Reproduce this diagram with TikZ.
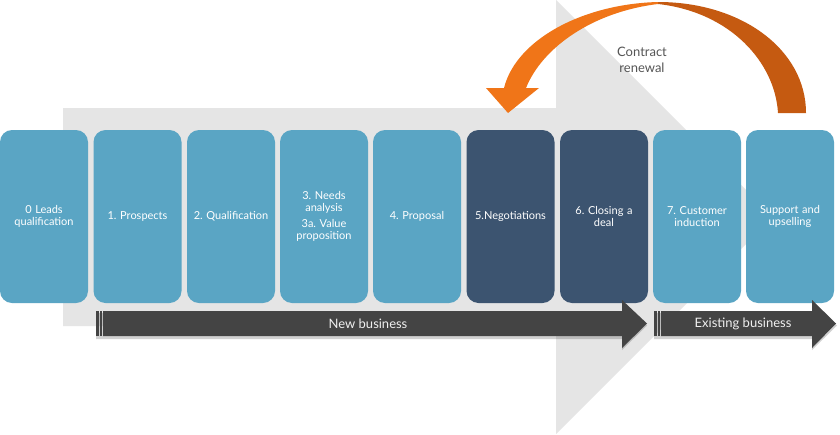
\documentclass[tikz,border=0pt]{standalone}
\usepackage{fontspec}
\setmainfont{Lato}
\frenchspacing
\usetikzlibrary{positioning}
\definecolor{lightblue}{HTML}{5AA5C4}
\definecolor{darkblue}{HTML}{3C5470}
\definecolor{arrowgray}{HTML}{444444}
\definecolor{bggray}{HTML}{E5E5E5}
\definecolor{orangeA}{HTML}{F07518}
\definecolor{orangeB}{HTML}{C55A11}
\definecolor{labelgray}{HTML}{555555}
\tikzset{
  stage/.style={rounded corners=12pt, minimum width=88pt, minimum height=173pt,
    inner sep=0pt, text=white, align=center, text width=84pt,
    font=\fontsize{11}{12}\selectfont},
  lightstage/.style={stage, fill=lightblue},
  darkstage/.style={stage, fill=darkblue},
  barlabel/.style={text=white!94!black, font=\fontsize{13}{15}\selectfont, inner sep=0pt},
}
\begin{document}
\begin{tikzpicture}[x=1pt,y=-1pt]
\useasboundingbox (0,0) rectangle (840,434);
\fill[white] (0,0) rectangle (840,434);
% background large arrow
\fill[bggray] (63,108) -- (556,108) -- (556,0) -- (773,217) -- (556,434) -- (556,326) -- (63,326) -- cycle;

% stages
\node[lightstage] (s0) at (44,216.5) {0 Leads\\qualification};
\node[lightstage] (s1) at (137.5,216.5) {1. Prospects};
\node[lightstage] (s2) at (231,216.5) {2. Qualification};
\node[lightstage] (s3) at (324,216.5) {3. Needs\\analysis\\[4pt]3a. Value\\proposition};
\node[lightstage] (s4) at (417,216.5) {4. Proposal};
\node[darkstage] (s5) at (510.5,216.5) {5.Negotiations};
\node[darkstage] (s6) at (604,216.5) {6. Closing a\\deal};
\node[lightstage] (s7) at (697,216.5) {7. Customer\\induction};
\node[lightstage] (s8) at (790,216.5) {Support and\\upselling};

% shadows of business arrows
\fill[black, opacity=0.18] (96,313) -- (622,313) -- (622,302) -- (647,325.5) -- (622,350) -- (622,339) -- (96,339) -- cycle;
\fill[black, opacity=0.18] (654,313) -- (812,313) -- (812,302) -- (837,325.5) -- (812,350) -- (812,339) -- (654,339) -- cycle;

% New business arrow
\fill[arrowgray] (96,311) rectangle (98.7,336);
\fill[arrowgray] (100,311) rectangle (101.8,336);
\fill[arrowgray] (103,311) -- (622,311) -- (622,300) -- (647,323.5) -- (622,348) -- (622,336) -- (103,336) -- cycle;
\node[barlabel] (nb) at (368,323.5) {New business};

% Existing business arrow
\fill[arrowgray] (654,311) rectangle (656.7,336);
\fill[arrowgray] (658,311) rectangle (659.8,336);
\fill[arrowgray] (661,311) -- (812,311) -- (812,300) -- (836,323.5) -- (812,348) -- (812,336) -- (661,336) -- cycle;
\node[barlabel] (eb) at (743,323.5) {Existing business};

% Contract renewal arrow
\fill[orangeB] (658,2) .. controls (742,2) and (806,50) .. (806,113)
  -- (778,113) .. controls (775,62) and (730,12) .. (658,4) -- cycle;
\fill[orangeA] (658,2) .. controls (582,4) and (516,40) .. (504,88)
  -- (486,88) -- (508,113) -- (539,88) -- (526,88)
  .. controls (542,48) and (592,12) .. (658,4) -- cycle;
\node[text=labelgray, align=center, font=\fontsize{13}{16}\selectfont, inner sep=0pt] (cr) at (642,60) {Contract\\renewal};
\end{tikzpicture}
\end{document}
